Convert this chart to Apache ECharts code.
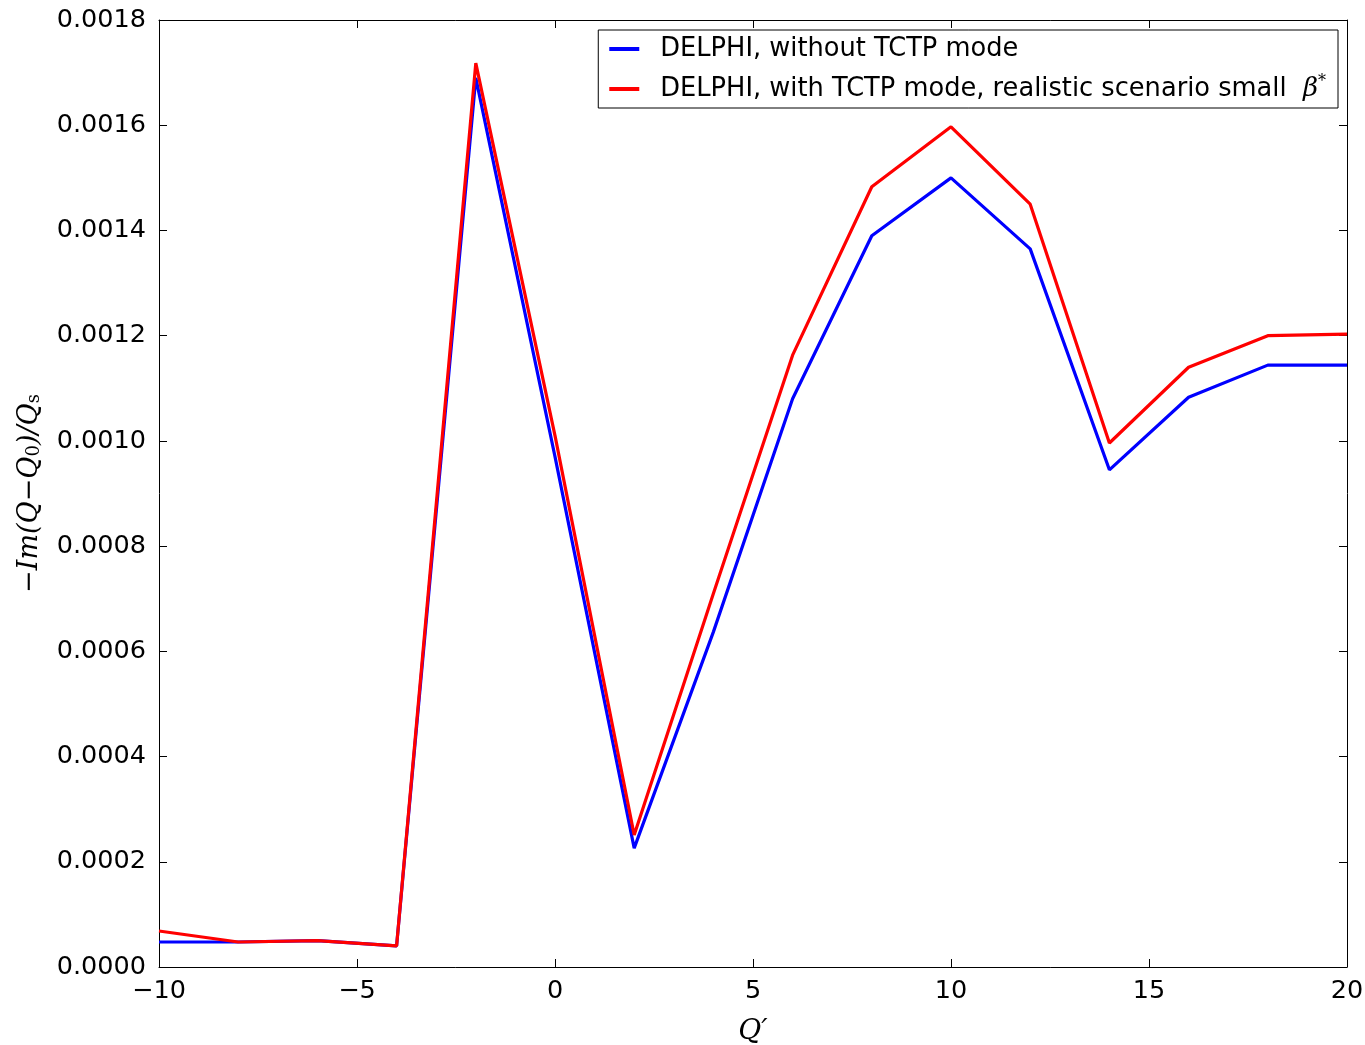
<!DOCTYPE html>
<html><head><meta charset="utf-8">
<script src="https://cdn.jsdelivr.net/npm/echarts@6/dist/echarts.min.js"></script>
<style>html,body{margin:0;padding:0;background:#fff}#c{width:1365px;height:1045px}</style>
</head><body><div id="c"></div>
<script>
const qPrime = [-10,-8,-6,-4,-2,0,2,4,6,8,10,12,14,16,18,20];
const withoutTCTP = [0.0000475,0.0000475,0.00005,0.00004,0.00169,0.00097,0.000226,0.000637,0.00108,0.00139,0.00150,0.001365,0.000945,0.001083,0.001144,0.001144];
const withTCTP = [0.0000684,0.0000475,0.00005,0.00004,0.001718,0.00101,0.000251,0.00071,0.001163,0.001483,0.001597,0.00145,0.000996,0.00114,0.0012,0.001203];
const seriesNames = ['DELPHI, without TCTP mode','DELPHI, with TCTP mode, realistic scenario small'];

const chart = echarts.init(document.getElementById('c'));
const fnt = 'DejaVu Sans';
const ticksIn = {show:true, inside:true, length:8, lineStyle:{color:'#000', width:1}};
const axLine = {show:true, onZero:false, lineStyle:{color:'#000', width:1}};
const minus = v => String(v).replace('-', '\u2212');
chart.setOption({
  animation:false,
  grid:{left:159, right:18, top:20, bottom:78, containLabel:false, outerBoundsMode:'none'},
  legend:{
    orient:'vertical', right:27, top:30, padding:[6,12,6,11],
    borderColor:'#000', borderWidth:1, itemWidth:30, itemHeight:4, itemGap:12,
    icon:'rect',
    data:seriesNames,
    textStyle:{fontFamily:fnt, fontSize:25.7, color:'#000', padding:[0,0,0,16],
      rich:{b:{fontFamily:'DejaVu Serif', fontStyle:'italic', fontSize:26}, s:{fontFamily:'DejaVu Serif', fontSize:16, verticalAlign:'top', padding:[0,0,14,0]}}},
    formatter: n => n === seriesNames[1] ? n + '  {b|\u03b2}{s|*}' : n
  },
  xAxis:[{
    type:'value', min:-10, max:20, interval:5,
    axisLine:axLine, axisTick:ticksIn, splitLine:{show:false},
    axisLabel:{fontFamily:fnt, fontSize:25.5, color:'#000', margin:11, formatter:minus},
    name:'Q\u2032', nameLocation:'middle', nameGap:51,
    nameTextStyle:{fontFamily:'DejaVu Serif', fontStyle:'italic', fontSize:28, color:'#000'}
  },{
    type:'value', min:-10, max:20, interval:5, position:'top',
    axisLine:axLine, axisTick:ticksIn, axisLabel:{show:false}, splitLine:{show:false}
  }],
  yAxis:[{
    type:'value', min:0, max:0.0018, interval:0.0002,
    axisLine:axLine, axisTick:ticksIn, splitLine:{show:false},
    axisLabel:{fontFamily:fnt, fontSize:25.5, color:'#000', margin:13, formatter:v=>v.toFixed(4)},
    name:'{m|\u2212Im(Q\u2212Q}{sub|0}{m|)/Q}{sub|s}', nameLocation:'middle', nameGap:116, nameRotate:90,
    nameTextStyle:{color:'#000', rich:{
      m:{fontFamily:'DejaVu Serif', fontStyle:'italic', fontSize:27, color:'#000', verticalAlign:'bottom', lineHeight:30},
      sub:{fontFamily:'DejaVu Serif', fontSize:18, color:'#000', verticalAlign:'bottom', lineHeight:24}
    }}
  },{
    type:'value', min:0, max:0.0018, interval:0.0002, position:'right',
    axisLine:axLine, axisTick:ticksIn, axisLabel:{show:false}, splitLine:{show:false}
  }],
  series:[
    {name:seriesNames[0], type:'line', data:qPrime.map((q,i)=>[q,withoutTCTP[i]]), showSymbol:false, lineStyle:{color:'#0000ff', width:3.2}, itemStyle:{color:'#0000ff'}, z:2},
    {name:seriesNames[1], type:'line', data:qPrime.map((q,i)=>[q,withTCTP[i]]), showSymbol:false, lineStyle:{color:'#ff0000', width:3.2}, itemStyle:{color:'#ff0000'}, z:3}
  ]
});
</script></body></html>
